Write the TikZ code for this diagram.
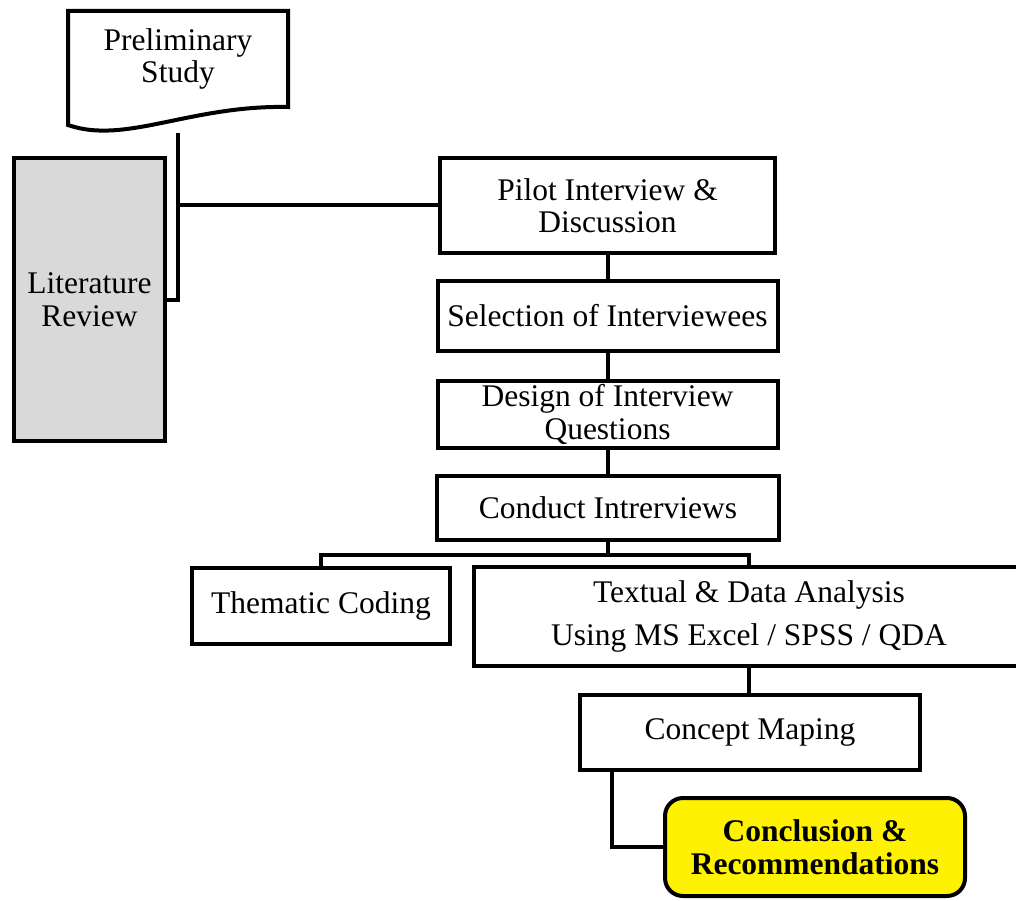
\documentclass[tikz,border=0pt]{standalone}
\usepackage{fontspec}
\setmainfont{Liberation Serif}
\begin{document}
\begin{tikzpicture}[x=1pt,y=-1pt,line width=4pt]
\tikzstyle{every node}+=[inner sep=0pt,align=center,font=\fontsize{31.5}{32.5}\selectfont]
\tikzstyle{stage}=[draw=black,fill=white,minimum width=340pt,minimum height=70pt]
\useasboundingbox (0,0) rectangle (1016,901);
\clip (0,0) rectangle (1016,901);
\draw [black,fill=white] (68,125) -- (68,11) -- (288,11) -- (288,107) .. controls (190,105) and (125,145) .. (68,125) -- cycle;
\node (prelim) at (178,59) {Preliminary\\Study};
\coordinate (prelimfoot) at (178,133);
\node [stage,fill=black!15,minimum width=151pt,minimum height=283pt] (litrev) at (89.5,299.5) {Literature\\Review};
\node [stage,minimum width=335pt,minimum height=95pt] (pilot) at (607.5,205.5) {Pilot Interview \&\\Discussion};
\node [stage] (select) at (607.5,316) {Selection of Interviewees};
\node [stage,minimum height=67pt] (design) at (607.5,414.5) {Design of Interview\\Questions};
\node [stage,minimum width=342pt,minimum height=64pt] (conduct) at (608,508) {Conduct Intrerviews};
\node [stage,minimum width=258pt,minimum height=76pt] (thematic) at (321,606) {Thematic  Coding};
\node [stage,minimum width=550pt,minimum height=99pt] (textual) at (749,616.5) {Textual \& Data Analysis\\[11pt]Using MS Excel / SPSS / QDA};
\node [stage,minimum height=75pt] (concept) at (750,732.5) {Concept Maping};
\node [stage,fill=yellow,rounded corners=18pt,minimum width=300pt,minimum height=98pt,font=\fontsize{31.5}{32.5}\selectfont\bfseries] (concl) at (815,847) {Conclusion \&\\Recommendations};
\draw [black] (prelimfoot) |- (litrev.east);
\draw [black] (prelimfoot |- pilot.west) -- (pilot.west);
\draw [black] (pilot.south) -- (pilot.south |- select.north);
\draw [black] (select.south) -- (select.south |- design.north);
\draw [black] (design.south) -- (design.south |- conduct.north);
\draw [black] (conduct.south) -- ++(0,13) coordinate (split);
\draw [black] (thematic.north) |- (split) -| (textual.north);
\draw [black] (textual.south) -- (textual.south |- concept.north);
\draw [black] ([xshift=34pt]concept.south west) |- (concl.west);
\end{tikzpicture}
\end{document}
